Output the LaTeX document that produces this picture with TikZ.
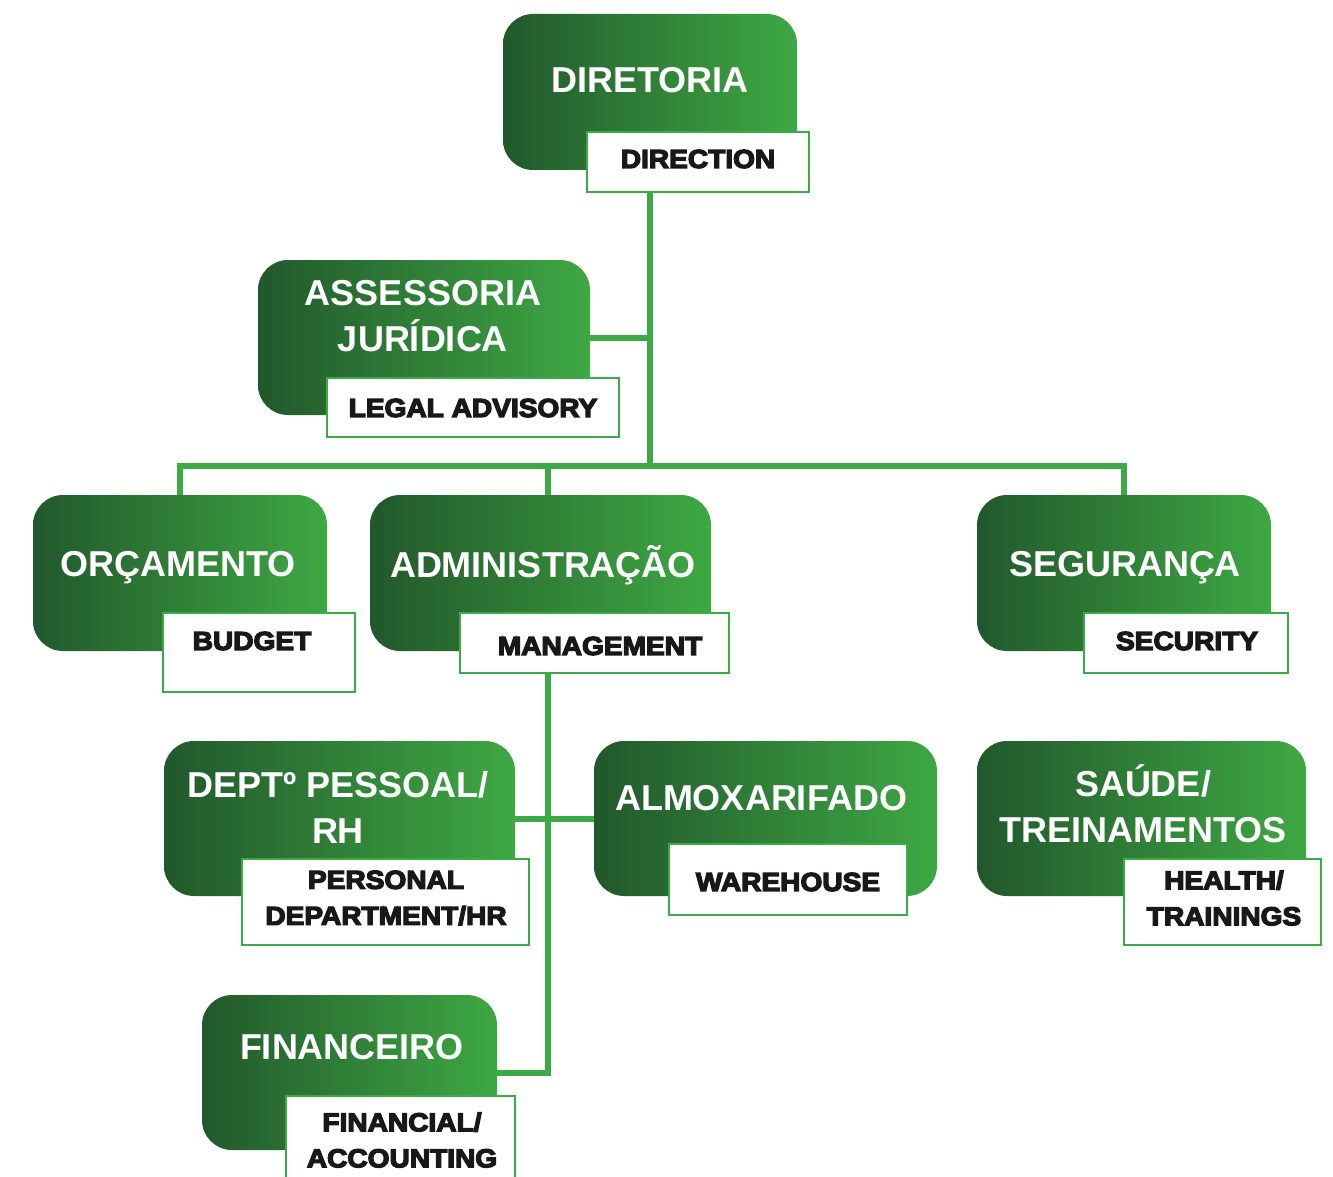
\documentclass[tikz,border=0pt]{standalone}
\usepackage{fontspec}
\setmainfont{Liberation Sans}
\newfontfamily\lfont{Liberation Sans}[BoldFeatures={FakeStretch=1.08,FakeBold=5}]
\usetikzlibrary{backgrounds}
\definecolor{gdark}{RGB}{34,88,44}
\definecolor{glight}{RGB}{62,168,67}
\definecolor{gline}{RGB}{61,170,72}
\definecolor{ink}{RGB}{26,23,24}
\begin{document}
\begin{tikzpicture}[x=1pt,y=-1pt,
  gbox/.style={rounded corners=30pt, left color=gdark, right color=glight, draw=none, inner sep=0pt},
  gtext/.style={text=white, font=\fontsize{36}{46}\selectfont\bfseries, align=center, inner sep=0pt},
  lbox/.style={draw=gline, line width=2.5pt, fill=white, inner sep=0pt},
  ltext/.style={text=ink, font=\lfont\fontsize{26}{36}\selectfont\bfseries, align=center, inner sep=0pt},
  conn/.style={draw=gline, line width=6pt}]
\useasboundingbox (0,0) rectangle (1333,1177);
\clip (0,0) rectangle (1333,1177);

% green boxes
\node[gbox, minimum width=294pt, minimum height=156pt] (dir) at (650,92) {};
\node[gbox, minimum width=332pt, minimum height=155pt] (ass) at (424,337.5) {};
\node[gbox, minimum width=294pt, minimum height=156pt] (orc) at (180,573) {};
\node[gbox, minimum width=341pt, minimum height=156pt] (adm) at (540.5,573) {};
\node[gbox, minimum width=294pt, minimum height=156pt] (seg) at (1124,573) {};
\node[gbox, minimum width=351pt, minimum height=155pt] (dep) at (339.5,818.5) {};
\node[gbox, minimum width=343pt, minimum height=155pt] (alm) at (765.5,818.5) {};
\node[gbox, minimum width=329pt, minimum height=155pt] (sau) at (1141.5,818.5) {};
\node[gbox, minimum width=295pt, minimum height=155pt] (fin) at (349.5,1072.5) {};

% green box texts
\node[gtext] (dirT) at (650,80) {DIRETORIA};
\node[gtext] (assT) at (423,316) {ASSESSORIA\\JURÍDICA};
\node[gtext] (orcT) at (178,568) {ORÇAMENTO};
\node[gtext] (admT) at (543,565) {ADMINISTRAÇÃO};
\node[gtext] (segT) at (1125,568) {SEGURANÇA};
\node[gtext] (depT) at (338,807) {DEPTº PESSOAL/\\RH};
\node[gtext] (almT) at (761,798) {ALMOXARIFADO};
\node[gtext] (sauT) at (1143,804) {SAÚDE/\\TREINAMENTOS};
\node[gtext] (finT) at (352,1047) {FINANCEIRO};

% label boxes
\node[lbox, minimum width=222pt, minimum height=60pt] (dirL) at (698,162) {};
\node[lbox, minimum width=292pt, minimum height=59pt] (assL) at (473,407.5) {};
\node[lbox, minimum width=192pt, minimum height=79pt] (orcL) at (259,652.5) {};
\node[lbox, minimum width=269pt, minimum height=60pt] (admL) at (594.5,643) {};
\node[lbox, minimum width=204pt, minimum height=60pt] (segL) at (1186,643) {};
\node[lbox, minimum width=287pt, minimum height=86pt] (depL) at (385.5,902) {};
\node[lbox, minimum width=238pt, minimum height=71pt] (almL) at (788,879.5) {};
\node[lbox, minimum width=197pt, minimum height=86pt] (sauL) at (1222.5,902) {};
\node[lbox, minimum width=229pt, minimum height=94pt] (finL) at (400.5,1143) {};

% label texts
\node[ltext] (dirLT) at (698,159) {DIRECTION};
\node[ltext] (assLT) at (473,408) {LEGAL ADVISORY};
\node[ltext] (orcLT) at (252,641) {BUDGET};
\node[ltext] (admLT) at (600,646) {MANAGEMENT};
\node[ltext] (segLT) at (1187,641) {SECURITY};
\node[ltext] (depLT) at (386,898) {PERSONAL\\DEPARTMENT/HR};
\node[ltext] (almLT) at (788,882) {WAREHOUSE};
\node[ltext] (sauLT) at (1224,898) {HEALTH/\\TRAININGS};
\node[ltext] (finLT) at (402,1140) {FINANCIAL/\\ACCOUNTING};

% connectors
\coordinate (bus) at (650,466);
\coordinate (vtop) at (548,673);
\begin{scope}[on background layer]
\draw[conn] (dirL.south -| dir.south) -- (bus);
\draw[conn] (ass.east) -- (ass.east -| bus);
\draw[conn] (orc.north) |- (bus) -| (seg.north);
\draw[conn] (adm.north -| vtop) -- (vtop |- bus);
\draw[conn] (vtop) |- (fin.east);
\draw[conn] (dep.east) -- (alm.west);
\end{scope}
\end{tikzpicture}
\end{document}
